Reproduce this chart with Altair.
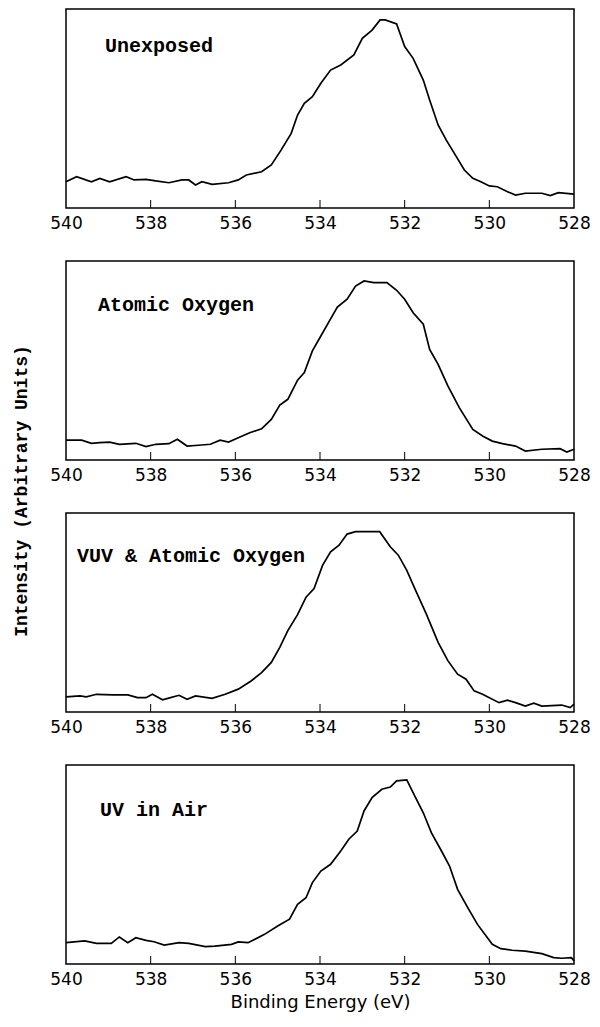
import altair as alt
import pandas as pd

# ---------------- data ----------------
panel_names = ["Unexposed", "Atomic Oxygen", "VUV & Atomic Oxygen", "UV in Air"]

E1 = [540.0, 539.75, 539.4, 539.2, 538.97, 538.58, 538.39, 538.11, 537.88, 537.57, 537.26, 537.1,
      536.94, 536.79, 536.55, 536.16, 535.93, 535.74, 535.38, 535.15, 534.92, 534.68, 534.53, 534.37,
      534.18, 533.98, 533.75, 533.51, 533.2, 533.0, 532.77, 532.58, 532.46, 532.19, 532.0, 531.8,
      531.56, 531.41, 531.21, 531.02, 530.78, 530.59, 530.39, 530.2, 530.0, 529.81, 529.57, 529.38,
      529.15, 528.76, 528.56, 528.37, 528.0]
I1 = [13.2, 15.7, 13.2, 14.9, 13.2, 15.7, 14.1, 14.4, 13.6, 12.7, 14.1, 14.1,
      11.6, 13.2, 11.9, 12.7, 14.1, 16.6, 18.2, 21.6, 29.1, 37.5, 46.7, 52.6,
      55.9, 62.7, 69.3, 71.9, 76.9, 85.3, 89.4, 94.5, 94.5, 92.5, 81.1, 75.2,
      64.3, 54.3, 41.7, 34.2, 25.8, 19.1, 14.9, 13.2, 11.1, 10.7, 8.2, 6.5,
      7.4, 7.4, 6.2, 7.7, 7.0]

E2 = [540.0, 539.63, 539.4, 539.2, 538.97, 538.74, 538.35, 538.11, 537.88, 537.57, 537.37, 537.14,
      536.87, 536.59, 536.36, 536.16, 535.93, 535.66, 535.38, 535.15, 534.95, 534.76, 534.53, 534.37,
      534.18, 533.98, 533.78, 533.59, 533.36, 533.16, 532.96, 532.73, 532.42, 532.19, 532.0, 531.8,
      531.56, 531.41, 531.21, 530.98, 530.71, 530.39, 530.16, 529.93, 529.69, 529.38, 529.15, 528.76,
      528.33, 528.17, 528.0]
I2 = [10.0, 10.0, 8.4, 8.7, 9.0, 7.9, 8.4, 6.7, 7.9, 8.2, 10.4, 7.0,
      7.4, 7.9, 10.0, 9.0, 11.2, 13.7, 15.7, 20.4, 27.6, 30.5, 40.1, 43.9,
      54.8, 62.3, 69.8, 76.9, 80.8, 87.4, 90.0, 89.1, 89.1, 85.3, 80.8, 74.0,
      68.2, 55.6, 48.1, 37.2, 26.3, 15.4, 12.1, 9.5, 8.2, 7.0, 4.5, 5.4,
      5.7, 4.0, 5.4]

E3 = [540.0, 539.67, 539.52, 539.28, 538.89, 538.54, 538.31, 538.11, 537.96, 537.72, 537.53, 537.33,
      537.14, 536.94, 536.55, 536.24, 535.93, 535.62, 535.38, 535.15, 534.95, 534.76, 534.53, 534.33,
      534.14, 533.94, 533.75, 533.55, 533.36, 533.16, 532.85, 532.59, 532.34, 532.15, 531.95, 531.76,
      531.49, 531.21, 530.98, 530.75, 530.55, 530.36, 530.16, 529.77, 529.57, 529.38, 529.15, 528.95,
      528.76, 528.29, 528.09, 528.0]
I3 = [7.6, 8.1, 7.6, 8.9, 8.6, 8.6, 7.2, 7.2, 8.9, 6.1, 7.2, 8.4,
      6.4, 8.1, 6.9, 8.9, 11.5, 15.7, 19.8, 24.9, 32.5, 40.9, 48.9, 57.7,
      62.0, 73.7, 80.5, 83.8, 89.4, 90.6, 90.6, 90.6, 83.0, 78.8, 71.2, 62.0,
      49.3, 35.0, 25.8, 19.0, 16.5, 10.6, 8.9, 4.7, 5.9, 4.7, 3.0, 4.4,
      3.0, 3.5, 2.2, 3.9]

E4 = [540.0, 539.56, 539.28, 538.93, 538.74, 538.54, 538.35, 538.11, 537.92, 537.68, 537.33, 537.1,
      536.71, 536.48, 536.09, 535.93, 535.7, 535.31, 535.0, 534.72, 534.53, 534.33, 534.18, 533.98,
      533.75, 533.51, 533.32, 533.12, 532.96, 532.77, 532.54, 532.34, 532.19, 531.95, 531.76, 531.56,
      531.37, 531.13, 530.94, 530.75, 530.51, 530.28, 529.93, 529.73, 529.46, 529.15, 528.76, 528.48,
      528.29, 528.06, 528.0]
I4 = [10.7, 11.6, 10.4, 10.4, 13.6, 10.7, 13.2, 11.9, 11.2, 9.5, 10.7, 10.4,
      8.7, 9.0, 9.9, 11.1, 10.7, 14.9, 19.1, 22.5, 30.0, 33.3, 40.9, 46.7,
      50.1, 56.8, 62.7, 66.8, 76.9, 83.6, 87.8, 88.9, 92.0, 92.5, 84.4, 76.0,
      66.0, 56.8, 49.2, 37.5, 28.3, 19.9, 9.9, 7.7, 6.9, 6.5, 5.2, 3.2,
      2.9, 3.2, 1.5]

energies = [E1, E2, E3, E4]
intensities = [I1, I2, I3, I4]

tick_values = [538, 536, 534, 532, 530]
label_values = [540, 538, 536, 534, 532, 530, 528]

x_title = "Binding Energy (eV)"
y_title = "Intensity (Arbitrary Units)"

# ---------------- layout / style ----------------
W, H = 508, 199
label_pos = [(39, 43), (32, 50), (11, 49), (34, 51)]
mono = "Liberation Mono"
sans = "DejaVu Sans"

panels = []
for k in range(4):
    xscale = alt.Scale(domain=[528, 540], reverse=True, nice=False, zero=False)
    df = pd.DataFrame({"E": energies[k], "I": intensities[k]})
    is_last = k == 3
    axis = alt.Axis(values=label_values, ticks=False, domain=False, grid=False,
                    labelFlush=False, format="d",
                    title=x_title if is_last else None)
    line = alt.Chart(df).mark_line(color="black", strokeWidth=1.7).encode(
        x=alt.X("E:Q", scale=xscale, axis=axis),
        y=alt.Y("I:Q", scale=alt.Scale(domain=[0, 100]), axis=None),
    )
    ticks = alt.Chart(pd.DataFrame({"E": tick_values})).mark_rule(
        color="black", strokeWidth=1).encode(
        x=alt.X("E:Q", scale=xscale),
        y=alt.value(H), y2=alt.value(H - 8),
    )
    lx, ly = label_pos[k]
    lab = alt.Chart(pd.DataFrame({"t": [panel_names[k]]})).mark_text(
        align="left", baseline="alphabetic", font=mono, fontSize=20,
        fontWeight="bold", color="black").encode(
        x=alt.value(lx), y=alt.value(ly), text="t:N")
    layers = [line, ticks, lab]
    if k == 1:
        ytl = alt.Chart(pd.DataFrame({"t": [y_title]})).mark_text(
            align="center", baseline="middle", angle=270, font=mono,
            fontSize=18, fontWeight="bold", color="black").encode(
            x=alt.value(-44), y=alt.value(H + 31), text="t:N")
        layers.append(ytl)
    panels.append(alt.layer(*layers).properties(width=W, height=H))

chart = alt.vconcat(*panels, spacing=53, bounds="flush").properties(
    padding={"left": 4, "top": 0, "right": 0, "bottom": 2},
    background="white",
).configure_view(
    stroke="black", strokeWidth=1.5
).configure_axis(
    labelFont=sans, labelFontSize=17, labelColor="black", labelPadding=7,
    titleFont=sans, titleFontSize=18, titleColor="black", titleFontWeight="normal",
    titlePadding=6,
)

chart.save("out.html", embed_options={"renderer": "svg", "actions": False})
